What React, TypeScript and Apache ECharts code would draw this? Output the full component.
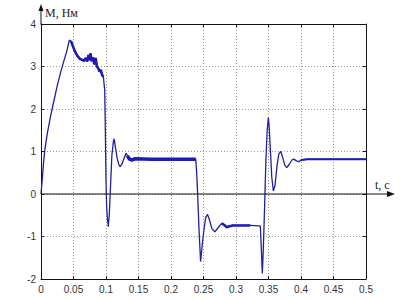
import React, { useEffect, useRef } from "react";
import * as echarts from "echarts";

const xTicks = [0, 0.05, 0.1, 0.15, 0.2, 0.25, 0.3, 0.35, 0.4, 0.45, 0.5];
const yTicks = [-2, -1, 0, 1, 2, 3, 4];

const tValues = [
  0, 0.002, 0.004, 0.006, 0.01, 0.015, 0.02, 0.025, 0.03, 0.035, 0.04, 0.0436, 0.046, 0.048,
  0.05, 0.053, 0.056, 0.06, 0.063, 0.066, 0.069, 0.071, 0.073, 0.075, 0.076, 0.078, 0.08,
  0.082, 0.084, 0.086, 0.088, 0.09, 0.092, 0.094, 0.0959, 0.098, 0.099, 0.1, 0.101, 0.102,
  0.1035, 0.105, 0.107, 0.109, 0.1115, 0.1125, 0.114, 0.117, 0.12, 0.122, 0.125, 0.128,
  0.131, 0.133, 0.136, 0.14, 0.145, 0.17, 0.2, 0.238, 0.2395, 0.241, 0.243, 0.2455, 0.248,
  0.251, 0.2535, 0.2562, 0.259, 0.263, 0.2675, 0.272, 0.278, 0.282, 0.286, 0.29, 0.295,
  0.322, 0.336, 0.3375, 0.339, 0.3405, 0.342, 0.344, 0.346, 0.348, 0.3497, 0.351, 0.353,
  0.355, 0.3575, 0.36, 0.363, 0.366, 0.369, 0.372, 0.375, 0.378, 0.382, 0.386, 0.389, 0.393,
  0.397, 0.4, 0.41, 0.45, 0.5,
];
const mValues = [
  0, 0.35, 0.75, 1.05, 1.45, 1.85, 2.2, 2.55, 2.85, 3.12, 3.38, 3.62, 3.6, 3.52,
  3.44, 3.33, 3.25, 3.18, 3.16, 3.13, 3.2, 3.12, 3.27, 3.15, 3.31, 3.12, 3.22,
  3.05, 3.2, 3.0, 2.96, 2.88, 2.92, 2.8, 2.76, 2.45, 1.5, 0.3, -0.3, -0.55,
  -0.77, -0.5, 0.2, 0.9, 1.25, 1.3, 1.15, 0.85, 0.68, 0.64, 0.72, 0.85,
  0.96, 0.9, 0.82, 0.8, 0.83, 0.82, 0.82, 0.82, 0.5, 0, -0.8, -1.59, -1.2,
  -0.8, -0.55, -0.48, -0.6, -0.82, -0.89, -0.8, -0.69, -0.73, -0.78, -0.76, -0.74,
  -0.74, -0.75, -0.76, -1.3, -1.87, -1.3, -0.3, 0.8, 1.5, 1.8, 1.6, 1.0,
  0.4, 0.07, 0.2, 0.65, 0.95, 1.0, 0.85, 0.68, 0.62, 0.7, 0.8, 0.82, 0.78,
  0.76, 0.8, 0.82, 0.82, 0.82,
];

// time ranges where the trace is drawn as a thick, noisy band
const bandRanges: [number, number][] = [
  [0.044, 0.097],
  [0.133, 0.238],
  [0.278, 0.322],
  [0.4, 0.5],
];

export default function App() {
  const ref = useRef<HTMLDivElement>(null);
  useEffect(() => {
    if (!ref.current) return;
    const chart = echarts.init(ref.current, undefined, { renderer: "svg" });
    const pts = tValues.map((t, i) => [t, mValues[i]]);
    const lineColor = "#1f1fa0";
    const bandSeries = bandRanges.map(([a, b], k) => ({
      type: "line",
      name: "band" + k,
      data: pts.filter((p) => p[0] >= a && p[0] <= b),
      showSymbol: false,
      symbol: "none",
      lineStyle: { color: "#1c1cc0", width: k === 1 ? 3.5 : k === 3 ? 2 : 2.6 },
      silent: true,
      z: 3,
    }));
    const axisLabelStyle = { color: "#333", fontSize: 10, fontFamily: "Liberation Sans, Arial, sans-serif" };
    chart.setOption({
      animation: false,
      grid: { left: 41, right: 34, top: 24, bottom: 21, containLabel: false },
      xAxis: [
        {
          type: "value",
          min: 0,
          max: 0.5,
          interval: 0.05,
          position: "bottom",
          axisLine: { onZero: false, lineStyle: { color: "#111", width: 1 } },
          axisTick: { inside: true, length: 3, lineStyle: { color: "#111" } },
          axisLabel: { ...axisLabelStyle, margin: 5, formatter: (v: number) => String(+v.toFixed(2)) },
          splitLine: { show: true, lineStyle: { color: "#9a9a9a", type: [1, 2], width: 1 } },
        },
        {
          type: "value",
          min: 0,
          max: 0.5,
          interval: 0.05,
          position: "top",
          axisLine: { onZero: false, lineStyle: { color: "#111", width: 1 } },
          axisTick: { inside: true, length: 3, lineStyle: { color: "#111" } },
          axisLabel: { show: false },
          splitLine: { show: false },
        },
      ],
      yAxis: [
        {
          type: "value",
          min: -2,
          max: 4,
          interval: 1,
          position: "left",
          axisLine: { show: true, onZero: false, lineStyle: { color: "#111", width: 1 } },
          axisTick: { show: true, inside: true, length: 3, lineStyle: { color: "#111" } },
          axisLabel: { ...axisLabelStyle, margin: 5 },
          splitLine: { show: true, lineStyle: { color: "#9a9a9a", type: [1, 2], width: 1 } },
        },
        {
          type: "value",
          min: -2,
          max: 4,
          interval: 1,
          position: "right",
          axisLine: { show: true, onZero: false, lineStyle: { color: "#111", width: 1 } },
          axisTick: { show: true, inside: true, length: 3, lineStyle: { color: "#111" } },
          axisLabel: { show: false },
          splitLine: { show: false },
        },
      ],
      series: [
        {
          type: "line",
          name: "M",
          data: pts,
          showSymbol: false,
          symbol: "none",
          lineStyle: { color: lineColor, width: 1.3 },
          z: 4,
        },
        ...bandSeries,
      ],
    });
    const x0 = chart.convertToPixel({ xAxisIndex: 0 }, 0) as number;
    const y0 = chart.convertToPixel({ yAxisIndex: 0 }, 0) as number;
    const yTop = chart.convertToPixel({ yAxisIndex: 0 }, 4) as number;
    const xEnd = 395;
    const yTip = 4;
    const serif = "Liberation Serif, Times New Roman, serif";
    chart.setOption({
      graphic: [
        { type: "line", shape: { x1: x0, y1: y0, x2: xEnd - 5, y2: y0 }, style: { stroke: "#111", lineWidth: 1.2 }, z: 10 },
        { type: "polygon", shape: { points: [[xEnd, y0], [xEnd - 8, y0 - 3], [xEnd - 8, y0 + 3]] }, style: { fill: "#111" }, z: 10 },
        { type: "line", shape: { x1: x0, y1: yTop, x2: x0, y2: yTip + 5 }, style: { stroke: "#111", lineWidth: 1 }, z: 10 },
        { type: "polygon", shape: { points: [[x0, yTip], [x0 - 2.5, yTip + 7], [x0 + 2.5, yTip + 7]] }, style: { fill: "#111" }, z: 10 },
        { type: "text", x: x0 + 4, y: 13, style: { text: "M, Нм", font: "12px " + serif, fill: "#222", textVerticalAlign: "middle" }, z: 10 },
        { type: "text", x: 375, y: y0 - 9, style: { text: "t, c", font: "12px " + serif, fill: "#222", textVerticalAlign: "middle" }, z: 10 },
      ],
    });
    return () => chart.dispose();
  }, []);
  return <div ref={ref} style={{ width: 400, height: 300, position: "absolute", left: 0, top: 0, background: "#fff" }} />;
}
